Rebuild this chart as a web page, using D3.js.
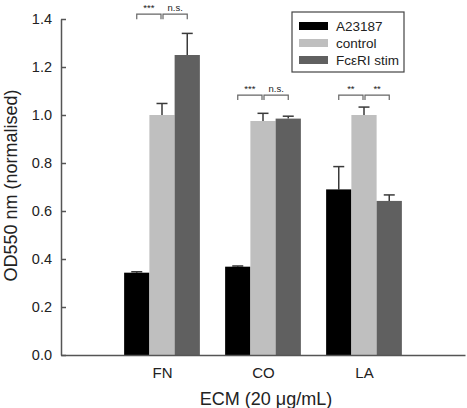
<!DOCTYPE html>
<html lang="en">
<head>
    <meta charset="UTF-8">
    <title>OD550 by ECM</title>
    <style>
        html, body { margin: 0; background: #fff; }
        text { font-family: "Liberation Sans", Arial, sans-serif; fill: #222; }
    </style>
</head>
<body>
<main></main>
<script src="https://d3js.org/d3.v7.min.js"></script>
<script>
    // - - - - - data - - - - -
    const categories = ["FN", "CO", "LA"];
    const seriesNames = ["A23187", "control", "Fc\u03B5RI stim"];
    const seriesColors = ["#000000", "#bfbfbf", "#606060"];
    const a23187 = [0.343, 0.368, 0.69];
    const a23187Err = [0.004, 0.003, 0.095];
    const control = [1.0, 0.975, 1.0];
    const controlErr = [0.048, 0.032, 0.033];
    const fceriStim = [1.25, 0.985, 0.642];
    const fceriStimErr = [0.09, 0.01, 0.025];
    const yTicks = [0.0, 0.2, 0.4, 0.6, 0.8, 1.0, 1.2, 1.4];
    // significance brackets: [category, from series, to series, label, level]
    const brackets = [
        ["FN", 0, 1, "***", 1.42],
        ["FN", 1, 2, "n.s.", 1.42],
        ["CO", 0, 1, "***", 1.083],
        ["CO", 1, 2, "n.s.", 1.083],
        ["LA", 0, 1, "**", 1.083],
        ["LA", 1, 2, "**", 1.083]
    ];

    const values = [a23187, control, fceriStim];
    const errors = [a23187Err, controlErr, fceriStimErr];

    const width = 467, height = 408;
    const margin = { left: 61, right: 2, top: 19, bottom: 53 };

    const svg = d3.select('main').append('svg')
        .attr('width', width)
        .attr('height', height);

    // group positions: categories sit at 1, 2, 3 on a 0..4 axis
    const x = d3.scaleLinear().domain([0, 4]).range([margin.left, width - margin.right]);
    const y = d3.scaleLinear().domain([0, 1.4]).range([height - margin.bottom, margin.top]);
    const barW = 0.25;

    function barX(ci, si) { return x(ci + 1 - 1.5 * barW + si * barW); }
    function barCx(ci, si) { return x(ci + 1 - 1.5 * barW + (si + 0.5) * barW); }

    // bars
    const bars = [];
    values.forEach(function (vals, si) {
        vals.forEach(function (v, ci) {
            bars.push({ si: si, ci: ci, v: v, e: errors[si][ci] });
        });
    });

    const pxW = x(barW) - x(0);

    // error bars (upward only)
    const eb = svg.append('g').attr('stroke', '#3a3a3a').attr('stroke-width', 1.5);
    bars.forEach(function (d) {
        const cx = barCx(d.ci, d.si);
        eb.append('line').attr('x1', cx).attr('x2', cx)
            .attr('y1', y(d.v)).attr('y2', y(d.v + d.e));
        eb.append('line').attr('x1', cx - 5.5).attr('x2', cx + 5.5)
            .attr('y1', y(d.v + d.e)).attr('y2', y(d.v + d.e));
    });

    svg.append('g').selectAll('rect')
        .data(bars)
        .enter().append('rect')
        .attr('x', d => barX(d.ci, d.si))
        .attr('y', d => y(d.v))
        .attr('width', pxW)
        .attr('height', d => y(0) - y(d.v))
        .attr('fill', d => seriesColors[d.si]);

    // y axis
    const yAxis = svg.append('g')
        .attr('transform', 'translate(' + margin.left + ',0)')
        .call(d3.axisRight(y).tickValues(yTicks).tickFormat(d3.format('.1f')).tickSize(5).tickSizeOuter(0));
    yAxis.select('.domain').attr('stroke', '#555').attr('stroke-width', 1.5);
    yAxis.selectAll('.tick line').attr('stroke', '#555').attr('stroke-width', 1.5);
    yAxis.selectAll('.tick text')
        .attr('x', -9)
        .attr('text-anchor', 'end')
        .attr('font-size', 14.5)
        .attr('font-family', '"Liberation Sans", Arial, sans-serif')
        .attr('fill', '#222');

    // x axis
    const xAxis = svg.append('g')
        .attr('transform', 'translate(0,' + y(0) + ')')
        .call(d3.axisBottom(x).tickValues([1, 2, 3]).tickFormat(d => categories[d - 1]).tickSize(0).tickSizeOuter(0));
    xAxis.select('.domain').attr('stroke', '#555').attr('stroke-width', 1.5);
    xAxis.selectAll('.tick text')
        .attr('dy', 0)
        .attr('y', 23)
        .attr('font-size', 15)
        .attr('font-family', '"Liberation Sans", Arial, sans-serif')
        .attr('fill', '#222');

    // axis titles
    svg.append('text')
        .attr('x', 266)
        .attr('y', 405)
        .attr('text-anchor', 'middle')
        .attr('font-size', 18)
        .text('ECM (20 \u03BCg/mL)');

    svg.append('text')
        .attr('transform', 'translate(17,185.5) rotate(-90)')
        .attr('text-anchor', 'middle')
        .attr('font-size', 18)
        .text('OD550 nm (normalised)');

    // significance brackets
    const bg = svg.append('g');
    brackets.forEach(function (b) {
        const ci = categories.indexOf(b[0]);
        const x1 = barCx(ci, b[1]) + (b[1] === 0 ? 0 : 1);
        const x2 = barCx(ci, b[2]) - (b[2] === 2 ? 0 : 1);
        const yy = y(b[4]);
        bg.append('path')
            .attr('d', 'M' + x1 + ',' + (yy + 5) + 'V' + yy + 'H' + x2 + 'V' + (yy + 5))
            .attr('fill', 'none')
            .attr('stroke', '#666')
            .attr('stroke-width', 1.2);
        bg.append('text')
            .attr('x', (x1 + x2) / 2)
            .attr('y', yy - 3)
            .attr('text-anchor', 'middle')
            .attr('font-size', 9.5)
            .attr('fill', '#444')
            .text(b[3]);
    });

    // legend
    const lg = svg.append('g').attr('transform', 'translate(292,12)');
    lg.append('rect')
        .attr('width', 112).attr('height', 60)
        .attr('fill', '#fff').attr('stroke', '#444').attr('stroke-width', 1.2);
    seriesNames.forEach(function (name, i) {
        lg.append('rect')
            .attr('x', 7).attr('y', 10 + i * 17)
            .attr('width', 29).attr('height', 8)
            .attr('fill', seriesColors[i]);
        lg.append('text')
            .attr('x', 44).attr('y', 19 + i * 17)
            .attr('font-size', 13.5)
            .text(name);
    });
</script>
</body>
</html>
